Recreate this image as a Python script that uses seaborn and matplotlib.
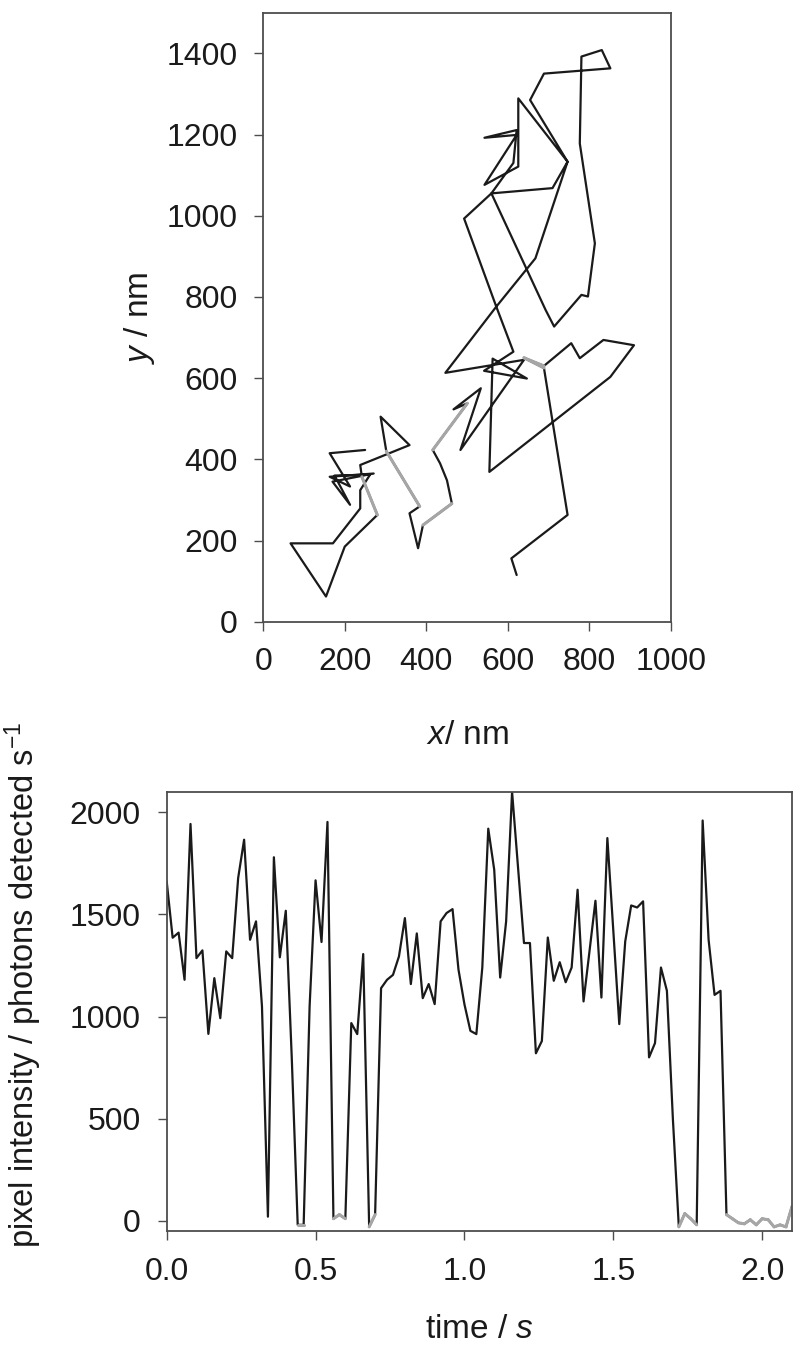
import numpy as np
import pandas as pd
import matplotlib
matplotlib.use("Agg")
import matplotlib.pyplot as plt
from matplotlib.ticker import FormatStrFormatter
import seaborn as sns

sns.set_theme(style="white")
plt.rcParams['font.family'] = ['Liberation Sans', 'DejaVu Sans']
plt.rcParams['mathtext.fontset'] = 'custom'
plt.rcParams['mathtext.rm'] = 'Liberation Sans'
plt.rcParams['mathtext.it'] = 'Liberation Sans:italic'

# ---- single-particle track (nm) ----
track_x = [250, 163, 213, 163, 271, 170, 213, 175, 262, 238,
           238, 171, 67, 154, 200, 280, 242, 238, 359, 288,
           302, 384, 359, 380, 392, 463, 451, 434, 416, 501,
           467, 534, 484, 640, 447, 572, 493, 560, 710, 747,
           626, 626, 543, 622, 543, 622, 614, 560, 693, 714,
           781, 797, 814, 777, 781, 831, 852, 689, 655, 747,
           668, 572, 614, 542, 647, 563, 555, 852, 910, 835,
           777, 756, 689, 640, 689, 747, 609, 622]
track_y = [423, 415, 333, 357, 365, 345, 288, 360, 362, 324,
           279, 193, 193, 62, 185, 263, 357, 386, 435, 505,
           420, 284, 267, 181, 238, 291, 348, 390, 423, 538,
           523, 575, 423, 645, 613, 776, 993, 1055, 1068, 1133,
           1289, 1121, 1076, 1199, 1192, 1211, 1130, 1055, 768, 727,
           805, 801, 932, 1178, 1392, 1408, 1363, 1350, 1285, 1133,
           895, 776, 665, 618, 599, 648, 369, 603, 681, 694,
           649, 686, 630, 650, 625, 263, 156, 115]
# steps of the track bridging frames without a detected spot
track_gap_steps = [15, 20, 24, 28, 72, 73]

# ---- intensity trace ----
frame_s = 0.02
intensity = [1662, 1386, 1411, 1180, 1943, 1286, 1324, 915, 1188, 992,
             1319, 1286, 1678, 1866, 1376, 1466, 1050, 20, 1780, 1290,
             1518, 800, -20, -20, 1050, 1667, 1365, 1953, 10, 30,
             10, 968, 914, 1306, -30, 30, 1139, 1180, 1204, 1294,
             1482, 1159, 1407, 1090, 1159, 1061, 1466, 1507, 1526, 1230,
             1060, 930, 914, 1240, 1920, 1719, 1191, 1466, 2100, 1730,
             1360, 1360, 820, 880, 1387, 1175, 1266, 1168, 1240, 1621,
             1074, 1320, 1567, 1093, 1874, 1420, 963, 1368, 1544, 1534,
             1564, 800, 870, 1240, 1126, 500, -30, 35, 10, -20,
             1960, 1376, 1106, 1126, 30, 10, -10, -15, 5, -20,
             10, 5, -30, -20, -30, 70]
dark_level = 100

BLACK = '#1a1a1a'
GREY = '#a6a6a6'
SPINE = '#4d4d4d'

time = np.arange(len(intensity)) * frame_s
trace = pd.DataFrame({'t': time, 'I': intensity})
dark = trace['I'].to_numpy() < dark_level

track = pd.DataFrame({'x': track_x, 'y': track_y})

fig = plt.figure(figsize=(7.93, 13.53), dpi=100)
ax1 = fig.add_axes([0.3320, 0.5405, 0.5137, 0.4501])
ax2 = fig.add_axes([0.2102, 0.0902, 0.7885, 0.3245])

# track
sns.lineplot(data=track, x='x', y='y', sort=False, estimator=None,
             color=BLACK, lw=1.6, ax=ax1)
gap_rows = []
for k, i in enumerate(track_gap_steps):
    gap_rows.append({'seg': k, 'x': track_x[i], 'y': track_y[i]})
    gap_rows.append({'seg': k, 'x': track_x[i + 1], 'y': track_y[i + 1]})
sns.lineplot(data=pd.DataFrame(gap_rows), x='x', y='y', units='seg',
             estimator=None, sort=False, color=GREY, lw=2.2, ax=ax1)

# trace
sns.lineplot(data=trace, x='t', y='I', estimator=None,
             color=BLACK, lw=1.6, ax=ax2)
dark_rows = []
for k in range(len(intensity) - 1):
    if dark[k] and dark[k + 1]:
        dark_rows.append({'seg': k, 't': time[k], 'I': intensity[k]})
        dark_rows.append({'seg': k, 't': time[k + 1], 'I': intensity[k + 1]})
sns.lineplot(data=pd.DataFrame(dark_rows), x='t', y='I', units='seg',
             estimator=None, sort=False, color=GREY, lw=2.2, ax=ax2)

ax1.set_xlim(0, 1000)
ax1.set_ylim(0, 1500)
ax1.set_xticks(np.arange(0, 1001, 200))
ax1.set_yticks(np.arange(0, 1401, 200))

ax2.set_xlim(0, 2.1)
ax2.set_ylim(-50, 2100)
ax2.set_xticks([0, 0.5, 1.0, 1.5, 2.0])
ax2.set_yticks(np.arange(0, 2001, 500))
ax2.xaxis.set_major_formatter(FormatStrFormatter('%.1f'))

for ax in (ax1, ax2):
    for s in ax.spines.values():
        s.set_visible(True)
        s.set_color(SPINE)
        s.set_linewidth(1.3)
    ax.tick_params(axis='both', direction='out', length=6.5, width=1.0,
                   color=SPINE, labelsize=23, labelcolor=BLACK, pad=12,
                   bottom=True, left=True, top=False, right=False)

ax1.set_xlabel('$x$/ nm', fontsize=24, color=BLACK, labelpad=31)
ax1.set_ylabel('$y$ / nm', fontsize=24, color=BLACK)
ax1.yaxis.set_label_coords(-0.262, 0.5)
ax2.set_xlabel('time / $s$', fontsize=24, color=BLACK, labelpad=20)
ax2.set_ylabel('pixel intensity / photons detected s$^{-1}$', fontsize=23.5,
               color=BLACK)
ax2.yaxis.set_label_coords(-0.197, 0.56)

fig.savefig('out.png', dpi=100)
